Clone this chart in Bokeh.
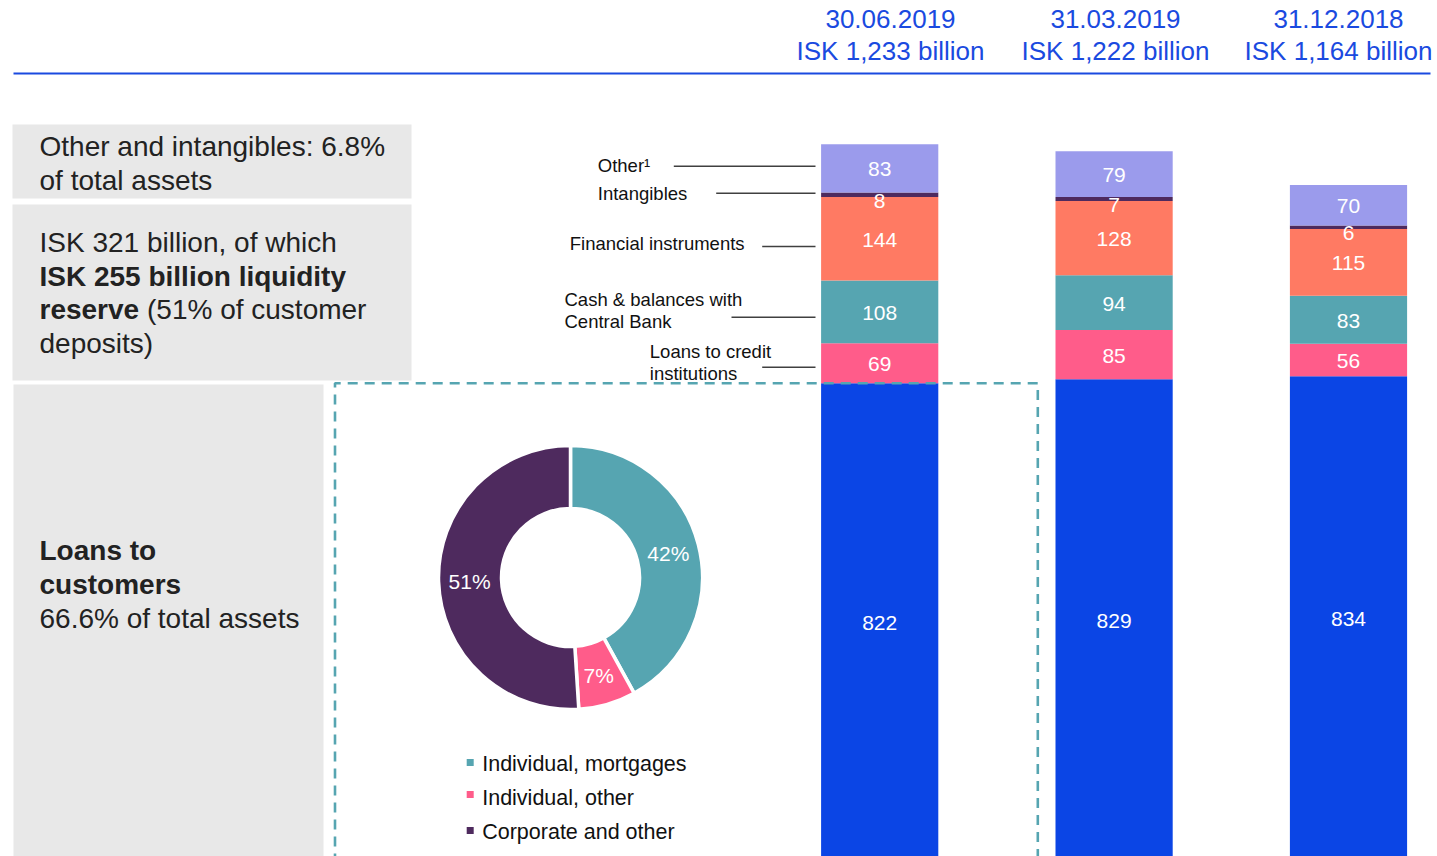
import numpy as np
from bokeh.plotting import figure
from bokeh.models import Range1d, ColumnDataSource
from bokeh.embed import file_html
from bokeh.resources import INLINE
from bokeh.core.properties import value

# ---------------- data ----------------
dates = ["30.06.2019", "31.03.2019", "31.12.2018"]
totals = ["ISK 1,233 billion", "ISK 1,222 billion", "ISK 1,164 billion"]

segment_names = ["Loans to customers", "Loans to credit institutions",
                 "Cash & balances with Central Bank", "Financial instruments",
                 "Intangibles", "Other"]
loans_customers = [822, 829, 834]
loans_credit = [69, 85, 56]
cash_cb = [108, 94, 83]
fin_instr = [144, 128, 115]
intangibles = [8, 7, 6]
other = [83, 79, 70]

loan_split_labels = ["Individual, mortgages", "Individual, other", "Corporate and other"]
loan_split_pct = [42, 7, 51]

box_texts = {
    "other": ["Other and intangibles: 6.8%", "of total assets"],
    "liq1": "ISK 321 billion, of which",
    "liq2": "ISK 255 billion liquidity",
    "liq3a": "reserve",
    "liq3b": "(51% of customer",
    "liq4": "deposits)",
    "loans_bold": ["Loans to", "customers"],
    "loans_norm": "66.6% of total assets",
}

# ---------------- styles ----------------
FONT = value("Liberation Sans")
BLUE = "#1a4ae0"
seg_colors = ["#0b45e5", "#ff5c8a", "#56a5b1", "#ff7a63", "#4e2a5e", "#9b9bec"]
donut_colors = ["#56a5b1", "#ff5c8a", "#4e2a5e"]
GREY = "#e8e8e8"
TXT = "#222222"

W, H = 1437, 856
OX, OY = 0, 0
PX_PER_UNIT = 0.58
BASE_Y = 859.5
BAR_PITCH = 234.4
BAR0 = 879.2


def v_at(y):
    return (BASE_Y - y) / PX_PER_UNIT


def u_at(x):
    return (x - BAR0) / BAR_PITCH


def Y(y):
    return 856 - y


p = figure(width=W, height=H,
           x_range=Range1d(u_at(OX), u_at(OX + W)),
           y_range=Range1d(v_at(OY + H), v_at(OY)),
           x_axis_type=None, y_axis_type=None,
           output_backend="svg", toolbar_location=None, tools="",
           min_border=0, title=None)
p.outline_line_color = None
p.background_fill_color = "white"
p.border_fill_color = "white"
p.grid.visible = False
p.extra_x_ranges = {"px": Range1d(OX, OX + W)}
p.extra_y_ranges = {"px": Range1d(856 - (OY + H), 856 - OY)}
PX = dict(x_range_name="px", y_range_name="px")

# ---------------- grey panels ----------------
p.quad(left=[12, 12, 13], right=[411, 411, 323],
       top=[Y(124), Y(204), Y(384)], bottom=[Y(198), Y(380), Y(880)],
       fill_color=GREY, line_color=None, **PX)

# ---------------- stacked bars ----------------
xs = [0, 1, 2]
keys = ["loans_customers", "loans_credit", "cash_cb", "fin_instr", "intangibles", "other"]
src = ColumnDataSource(dict(x=xs, loans_customers=loans_customers, loans_credit=loans_credit,
                            cash_cb=cash_cb, fin_instr=fin_instr,
                            intangibles=intangibles, other=other))
p.vbar_stack(keys, x="x", width=0.5, color=seg_colors, line_color=None, source=src)

vals = np.array([loans_customers, loans_credit, cash_cb, fin_instr, intangibles, other], dtype=float)
cum = vals.cumsum(axis=0)
bottoms = cum - vals
mids = bottoms + vals / 2

lx, ly, lt = [], [], []
ix, iy, it = [], [], []
for si in range(vals.shape[0]):
    for bi in range(3):
        if keys[si] == "intangibles":
            ix.append(xs[bi]); iy.append(bottoms[si, bi]); it.append(str(int(vals[si, bi])))
        else:
            lx.append(xs[bi]); ly.append(mids[si, bi]); lt.append(str(int(vals[si, bi])))
p.text(x=lx, y=ly, text=lt, text_align="center", text_baseline="middle",
       text_color="white", text_font=FONT, text_font_size="21px", y_offset=1)
p.text(x=ix, y=iy, text=it, text_align="center", text_baseline="middle",
       text_color="white", text_font=FONT, text_font_size="21px", y_offset=4)

# ---------------- dashed frame ----------------
p.line([334.5, 334.5, 1037.3, 1037.3], [Y(880), Y(382.7), Y(382.7), Y(880)],
       line_color="#56a5b1", line_width=2.6, line_dash="10 7", **PX)

# ---------------- header ----------------
hx = [890, 1115, 1338]
p.text(x=hx, y=[Y(18)] * 3, text=dates, text_align="center", text_baseline="alphabetic",
       text_color=BLUE, text_font=FONT, text_font_size="26px", **PX)
p.text(x=hx, y=[Y(50)] * 3, text=totals, text_align="center", text_baseline="alphabetic",
       text_color=BLUE, text_font=FONT, text_font_size="26px", **PX)
p.line([13, 1430], [Y(73), Y(73)], line_color=BLUE, line_width=2, **PX)

# ---------------- panel texts ----------------
p.text(x=[39, 39], y=[Y(145.5), Y(179.5)], text=box_texts["other"], text_color=TXT,
       text_font=FONT, text_font_size="28px", text_baseline="alphabetic", **PX)
p.text(x=[39, 39], y=[Y(242), Y(342.5)], text=[box_texts["liq1"], box_texts["liq4"]],
       text_color=TXT, text_font=FONT, text_font_size="28px", text_baseline="alphabetic", **PX)
p.text(x=[39, 39], y=[Y(275.5), Y(309)], text=[box_texts["liq2"], box_texts["liq3a"]],
       text_color=TXT, text_font=FONT, text_font_size="28px", text_font_style="bold",
       text_baseline="alphabetic", **PX)
p.text(x=[146.5], y=[Y(309)], text=[box_texts["liq3b"]],
       text_color=TXT, text_font=FONT, text_font_size="28px", text_baseline="alphabetic", **PX)
p.text(x=[39, 39], y=[Y(550), Y(584)], text=box_texts["loans_bold"],
       text_color=TXT, text_font=FONT, text_font_size="28px", text_font_style="bold",
       text_baseline="alphabetic", **PX)
p.text(x=[39], y=[Y(618)], text=[box_texts["loans_norm"]],
       text_color=TXT, text_font=FONT, text_font_size="28px", text_baseline="alphabetic", **PX)

# ---------------- bar leader labels ----------------
lab_x = [597.3, 597.3, 569.3, 564, 564, 649.3, 649.3]
lab_y = [165, 193, 243, 298.7, 321.3, 351, 373]
lab_t = ["Other\u00b9", "Intangibles", "Financial instruments", "Cash & balances with",
         "Central Bank", "Loans to credit", "institutions"]
p.text(x=lab_x, y=[Y(v) for v in lab_y], text=lab_t, text_color="#111111",
       text_font=FONT, text_font_size="18.5px", text_baseline="alphabetic", **PX)
seg_x0 = [673.3, 715.7, 761.7, 731, 761.7]
seg_yy = [165.7, 192.7, 246, 316.7, 366.7]
p.segment(x0=seg_x0, x1=[815] * 5, y0=[Y(v) for v in seg_yy], y1=[Y(v) for v in seg_yy],
          line_color="#404040", line_width=1.6, **PX)

# ---------------- donut ----------------
cx, cy = 570, Y(577)
pct = np.array(loan_split_pct, dtype=float)
cb = np.concatenate([[0], pct.cumsum()[:-1]])
start = np.radians(90 - cb * 3.6)
end = np.radians(90 - (cb + pct) * 3.6)
p.annular_wedge(x=cx, y=cy, inner_radius=69, outer_radius=132, inner_radius_units="screen",
                outer_radius_units="screen", start_angle=start, end_angle=end,
                direction="clock", fill_color=donut_colors, line_color="white",
                line_width=3.5, **PX)
mid = np.radians(90 - (cb + pct / 2) * 3.6)
p.text(x=cx + 101 * np.cos(mid), y=cy + 101 * np.sin(mid),
       text=[f"{int(v)}%" for v in pct], text_align="center", text_baseline="middle",
       text_color="white", text_font=FONT, text_font_size="21px", y_offset=1, **PX)

# legend
leg_y = [762, 794, 830]
p.scatter(x=[469.7] * 3, y=[Y(v) for v in leg_y], marker="square", size=7,
          fill_color=donut_colors, line_color=None, **PX)
p.text(x=[481.7] * 3, y=[Y(763.5), Y(797), Y(831.3)], text=loan_split_labels,
       text_color="#111111", text_font=FONT, text_font_size="21.5px",
       text_baseline="alphabetic", **PX)

open("out.html", "w").write(file_html(p, INLINE))
